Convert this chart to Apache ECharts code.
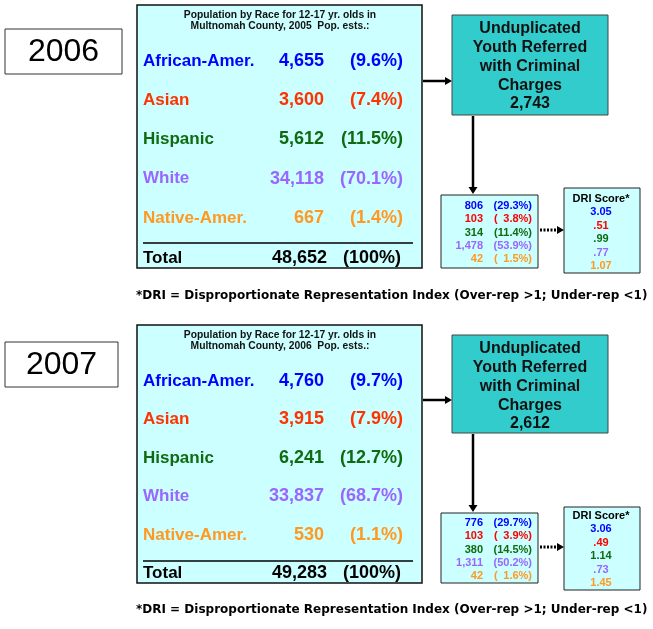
<!DOCTYPE html>
<html><head><meta charset="utf-8">
<script src="https://cdn.jsdelivr.net/npm/echarts@6/dist/echarts.min.js"></script>
<style>html,body{margin:0;padding:0;background:#fff}#c{width:653px;height:629px}</style>
</head><body><div id="c"></div>
<script>
// ---- data ----
const years = ['2006', '2007'];
const estYears = ['2005', '2006'];
const races = ['African-Amer.', 'Asian', 'Hispanic', 'White', 'Native-Amer.'];
const pop2006 = [4655, 3600, 5612, 34118, 667];
const popPct2006 = [9.6, 7.4, 11.5, 70.1, 1.4];
const popTotal2006 = 48652;
const pop2007 = [4760, 3915, 6241, 33837, 530];
const popPct2007 = [9.7, 7.9, 12.7, 68.7, 1.1];
const popTotal2007 = 49283;
const ref2006 = [806, 103, 314, 1478, 42];
const refPct2006 = [29.3, 3.8, 11.4, 53.9, 1.5];
const refTotal2006 = 2743;
const ref2007 = [776, 103, 380, 1311, 42];
const refPct2007 = [29.7, 3.9, 14.5, 50.2, 1.6];
const refTotal2007 = 2612;
const dri2006 = [3.05, 0.51, 0.99, 0.77, 1.07];
const dri2007 = [3.06, 0.49, 1.14, 0.73, 1.45];
const footnote = '*DRI = Disproportionate Representation Index (Over-rep >1; Under-rep <1)';

// ---- styles ----
const raceColors = ['#0000ff', '#ff3300', '#0f6b0f', '#9966ff', '#ff9922'];
const smallColors = ['#0000ff', '#ff0000', '#0f6b0f', '#9966ff', '#ff9922'];
const FF = '"Liberation Sans", Arial, Helvetica, sans-serif';
const FV = '"DejaVu Sans", Verdana, sans-serif';

const layouts = [
  {yearBox:[5,29,117,45], table:[137,5,285,263], titleY:[15,26], rowY0:61, rowGap:39.25, sepY:243, totalY:258,
   arrowY:81, teal:[452,15,156,100], tealY0:29, tealGap:18.75, vArrow:[116,195], small:[441,195,97,73],
   smallY0:206, smallGap:13.25, dot:230, dri:[564,188,76,85], driY0:199, driGap:13.4, foot:296},
  {yearBox:[5,342,113,45], table:[137,325,285,258], titleY:[335,346], rowY0:381, rowGap:38.5, sepY:561, totalY:573,
   arrowY:400, teal:[452,335,156,98], tealY0:349, tealGap:18.75, vArrow:[434,513], small:[441,513,97,70],
   smallY0:523, smallGap:13.25, dot:547, dri:[564,507,76,83], driY0:516, driGap:13.4, foot:610}
];

const sets = [
  {pop:pop2006, pct:popPct2006, total:popTotal2006, ref:ref2006, refPct:refPct2006, refTotal:refTotal2006, dri:dri2006},
  {pop:pop2007, pct:popPct2007, total:popTotal2007, ref:ref2007, refPct:refPct2007, refTotal:refTotal2007, dri:dri2007}
];

const fmt = n => n.toLocaleString('en-US');
const fmtDri = v => v.toFixed(2).replace(/^0/, '');
const pctSmall = v => '(' + (v < 10 ? '\u2002' : '') + v.toFixed(1) + '%)';

function txt(x, y, text, font, fill, align) {
  return {type:'text', silent:true, style:{x:x, y:y, text:text, font:font, fill:fill,
    textAlign:align||'left', textVerticalAlign:'middle', align:align||'left', verticalAlign:'middle'}};
}
function rect(r, fill, stroke, lw) {
  return {type:'rect', silent:true, shape:{x:r[0], y:r[1], width:r[2], height:r[3]},
    style:{fill:fill, stroke:stroke, lineWidth:lw}};
}
function line(x1, y1, x2, y2, lw, dash) {
  return {type:'line', silent:true, shape:{x1:x1, y1:y1, x2:x2, y2:y2},
    style:{stroke:'#000', lineWidth:lw, lineDash:dash||null}};
}
function tri(pts) {
  return {type:'polygon', silent:true, shape:{points:pts}, style:{fill:'#000'}};
}

const els = [];
years.forEach((yr, i) => {
  const L = layouts[i], D = sets[i];
  // year box
  els.push(rect(L.yearBox, '#fff', '#333', 1));
  els.push(txt(L.yearBox[0] + L.yearBox[2]/2, L.yearBox[1] + L.yearBox[3]/2 + 1, yr, '32px ' + FF, '#000', 'center'));
  // population table
  els.push(rect(L.table, '#ccffff', '#111', 1.5));
  els.push(txt(280, L.titleY[0], 'Population by Race for 12-17 yr. olds in', 'bold 10.3px ' + FF, '#111', 'center'));
  els.push(txt(280, L.titleY[1], 'Multnomah County, ' + estYears[i] + '  Pop. ests.:', 'bold 10.3px ' + FF, '#111', 'center'));
  races.forEach((r, k) => {
    const y = L.rowY0 + k * L.rowGap;
    els.push(txt(143, y, r, 'bold 17px ' + FF, raceColors[k], 'left'));
    els.push(txt(324, y, fmt(D.pop[k]), 'bold 18px ' + FF, raceColors[k], 'right'));
    els.push(txt(403, y, '(' + D.pct[k].toFixed(1) + '%)', 'bold 18px ' + FF, raceColors[k], 'right'));
  });
  els.push(line(143, L.sepY, 413, L.sepY, 1.5));
  els.push(txt(143, L.totalY, 'Total', 'bold 17px ' + FF, '#000', 'left'));
  els.push(txt(327, L.totalY, fmt(D.total), 'bold 18px ' + FF, '#000', 'right'));
  els.push(txt(401, L.totalY, '(100%)', 'bold 18px ' + FF, '#000', 'right'));
  // arrow to teal box
  els.push(line(423, L.arrowY, 446, L.arrowY, 2.5));
  els.push(tri([[445, L.arrowY - 4], [452, L.arrowY], [445, L.arrowY + 4]]));
  // teal box
  els.push(rect(L.teal, '#33cccc', '#444', 1));
  const tl = ['Unduplicated', 'Youth Referred', 'with Criminal', 'Charges', fmt(D.refTotal)];
  tl.forEach((t, k) => els.push(txt(530, L.tealY0 + k * L.tealGap, t, 'bold 16px ' + FF, '#111', 'center')));
  // vertical arrow
  els.push(line(473, L.vArrow[0], 473, L.vArrow[1] - 7, 2.5));
  els.push(tri([[468.5, L.vArrow[1] - 8], [473, L.vArrow[1] - 1], [477.5, L.vArrow[1] - 8]]));
  // small box
  els.push(rect(L.small, '#ccffff', '#222', 1));
  D.ref.forEach((v, k) => {
    const y = L.smallY0 + k * L.smallGap;
    els.push(txt(483, y, fmt(v), 'bold 11px ' + FF, smallColors[k], 'right'));
    els.push(txt(532, y, pctSmall(D.refPct[k]), 'bold 11px ' + FF, smallColors[k], 'right'));
  });
  // dotted arrow
  els.push(line(540, L.dot, 558, L.dot, 3, [2, 1.5]));
  els.push(tri([[557, L.dot - 4], [564, L.dot], [557, L.dot + 4]]));
  // DRI box
  els.push(rect(L.dri, '#ccffff', '#222', 1));
  els.push(txt(601, L.driY0, 'DRI Score*', 'bold 11px ' + FF, '#000', 'center'));
  D.dri.forEach((v, k) => {
    els.push(txt(601, L.driY0 + (k + 1) * L.driGap, fmtDri(v), 'bold 11px ' + FF, smallColors[k], 'center'));
  });
  // footnote
  els.push(txt(136, L.foot, footnote, 'bold 12px ' + FV, '#000', 'left'));
});

const chart = echarts.init(document.getElementById('c'), null, {renderer:'canvas'});
chart.setOption({animation:false, graphic:{elements:els}});
</script>
</body></html>
